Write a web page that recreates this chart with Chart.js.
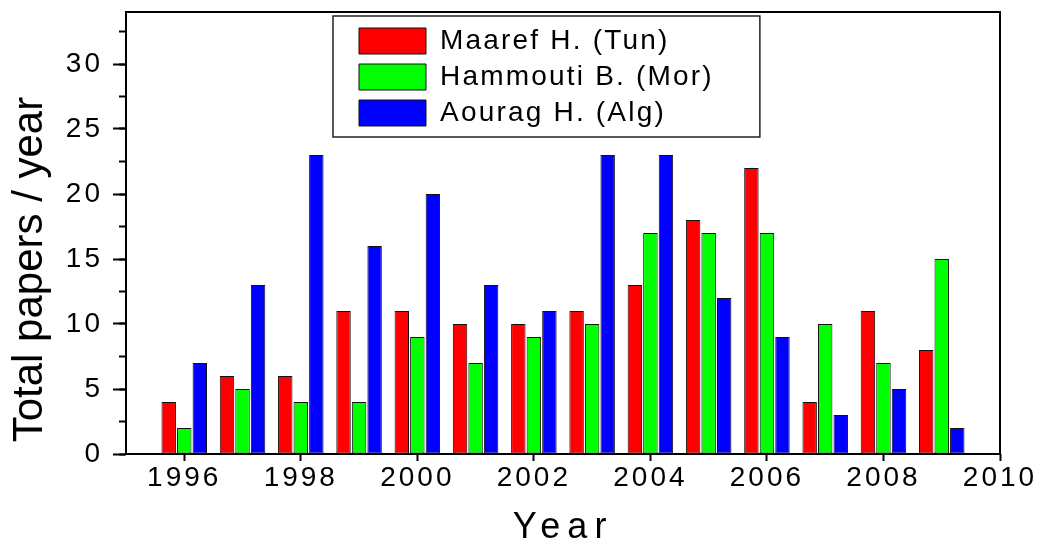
<!DOCTYPE html>
<html>
<head>
<meta charset="utf-8">
<title>Total papers per year</title>
<script src="https://cdn.jsdelivr.net/npm/chart.js@4.4.1/dist/chart.umd.min.js"></script>
<style>
  html, body { margin: 0; padding: 0; background: #fff; }
  canvas { display: block; }
</style>
</head>
<body>
<canvas id="papers-chart" width="1037" height="544"></canvas>
<script>
// datos
const years = [1996, 1997, 1998, 1999, 2000, 2001, 2002, 2003, 2004, 2005, 2006, 2007, 2008, 2009];
const maarefPapers   = [4, 6, 6, 11, 11, 10, 10, 11, 13, 18, 22, 4, 11, 8];
const hammoutiPapers = [2, 5, 4, 4, 9, 7, 9, 10, 17, 17, 17, 10, 7, 15];
const aouragPapers   = [7, 13, 23, 16, 20, 13, 11, 23, 23, 12, 9, 3, 5, 2];
const seriesNames = ['Maaref H. (Tun)', 'Hammouti B. (Mor)', 'Aourag H. (Alg)'];
const seriesColors = ['#ff0000', '#00ff00', '#0000ff'];
// marcas del eje x (años impares) y etiquetas (años pares)
const yearTickMarks = [1995, 1997, 1999, 2001, 2003, 2005, 2007, 2009];

const FONT = '"Liberation Sans", Arial, sans-serif';
Chart.defaults.font.family = FONT;
Chart.defaults.color = '#000';

// espaciado entre letras como en el original
function spaced(obj, method, spacing) {
  if (!obj || obj['_spaced_' + method]) return;
  const orig = obj[method];
  obj[method] = function () {
    const ctx = this.ctx;
    const prev = ctx.letterSpacing;
    ctx.letterSpacing = spacing;
    const res = orig.apply(this, arguments);
    ctx.letterSpacing = prev;
    return res;
  };
  obj['_spaced_' + method] = true;
}

const letterSpacing = {
  id: 'letterSpacing',
  beforeLayout(chart) {
    chart.ctx.letterSpacing = '3px';
    spaced(chart.legend, 'fit', '2.2px');
    spaced(chart.legend, 'draw', '2.2px');
    spaced(chart.scales.y, 'drawTitle', '0px');
    spaced(chart.scales.x, 'drawTitle', '7px');
  },
  beforeDraw(chart) {
    chart.ctx.letterSpacing = '3px';
  }
};

// leyenda dentro del area del grafico, con marco
const legendBox = {
  id: 'legendBox',
  afterLayout(chart) {
    const lg = chart.legend;
    const area = chart.chartArea;
    lg.left = area.left + 225;
    lg.top = area.top + 7;
    lg.right = lg.left + lg.width;
    lg.bottom = lg.top + lg.height;
  },
  afterDraw(chart) {
    const lg = chart.legend;
    const ctx = chart.ctx;
    ctx.save();
    ctx.lineWidth = 1.5;
    ctx.strokeStyle = '#222';
    ctx.strokeRect(lg.left - 18, lg.top - 3, lg.width + 54, 121);
    ctx.restore();
  }
};

// sin margenes extra por las etiquetas de los extremos
function noEdgePadding(s) {
  s.paddingLeft = 0;
  s.paddingRight = 0;
  s.paddingTop = 0;
  s.paddingBottom = 0;
}

const seriesData = [maarefPapers, hammoutiPapers, aouragPapers];

const tickFont = { family: FONT, size: 28 };

new Chart(document.getElementById('papers-chart').getContext('2d'), {
  type: 'bar',
  data: {
    labels: years,
    datasets: seriesNames.map((name, i) => ({
      label: name,
      data: seriesData[i],
      backgroundColor: seriesColors[i],
      borderColor: '#111',
      borderWidth: 1,
      borderSkipped: false,
      categoryPercentage: 0.8,
      barPercentage: 0.93,
      xAxisID: 'x',
      yAxisID: 'y'
    }))
  },
  plugins: [letterSpacing, legendBox],
  options: {
    responsive: false,
    animation: false,
    devicePixelRatio: 1,
    layout: { padding: { left: 0, right: 37, top: 12, bottom: 0 } },
    plugins: {
      tooltip: { enabled: false },
      legend: {
        position: 'chartArea',
        align: 'start',
        labels: {
          boxWidth: 67,
          boxHeight: 26,
          padding: 8,
          color: '#000',
          font: { family: FONT, size: 28, lineHeight: 1 }
        }
      }
    },
    scales: {
      x: {
        type: 'linear',
        position: 'bottom',
        weight: 1,
        min: 1995,
        max: 2010,
        offset: false,
        grid: { display: false, drawTicks: false, offset: false },
        border: { display: true, color: '#000', width: 2 },
        ticks: {
          stepSize: 2,
          includeBounds: false,
          autoSkip: false,
          maxRotation: 0,
          padding: 7,
          color: '#000',
          font: tickFont,
          callback: v => String(v)
        },
        title: {
          display: true,
          text: 'Year',
          color: '#000',
          font: { family: FONT, size: 36, lineHeight: 0.8 },
          padding: { top: 0, bottom: 2 }
        },
        afterFit: s => { s.height = 90; noEdgePadding(s); }
      },
      x2: {
        type: 'linear',
        position: 'bottom',
        weight: 0,
        min: 1995,
        max: 2010,
        offset: false,
        afterBuildTicks: s => { s.ticks = yearTickMarks.map(v => ({ value: v })); },
        grid: { drawOnChartArea: false, drawTicks: true, tickLength: 7, tickWidth: 2, tickColor: '#000' },
        border: { display: false },
        ticks: { display: false },
        afterFit: s => { s.height = 0; noEdgePadding(s); }
      },
      xTop: {
        type: 'linear',
        position: 'top',
        min: 1995,
        max: 2010,
        grid: { display: false },
        border: { display: true, color: '#000', width: 2 },
        ticks: { display: false },
        afterFit: s => { s.height = 0; noEdgePadding(s); }
      },
      y: {
        type: 'linear',
        position: 'left',
        weight: 1,
        min: 0,
        max: 34,
        grid: { drawOnChartArea: false, drawTicks: true, tickLength: 13, tickWidth: 2, tickColor: '#000' },
        border: { display: true, color: '#000', width: 2 },
        ticks: {
          stepSize: 5,
          includeBounds: false,
          padding: 10,
          color: '#000',
          font: tickFont,
          callback: v => String(v)
        },
        title: {
          display: true,
          text: ' Total papers / year',
          align: 'start',
          color: '#000',
          font: { family: FONT, size: 42 },
          padding: { top: 5, bottom: 0 }
        },
        afterFit: s => { s.width = 126; noEdgePadding(s); }
      },
      y2: {
        type: 'linear',
        position: 'left',
        weight: 0,
        min: 0,
        max: 34,
        grid: { drawOnChartArea: false, drawTicks: true, tickLength: 7, tickWidth: 2, tickColor: '#000' },
        border: { display: false },
        ticks: { display: false, stepSize: 2.5, includeBounds: false },
        afterFit: s => { s.width = 0; noEdgePadding(s); }
      },
      yRight: {
        type: 'linear',
        position: 'right',
        min: 0,
        max: 34,
        grid: { display: false },
        border: { display: true, color: '#000', width: 2 },
        ticks: { display: false },
        afterFit: s => { s.width = 0; noEdgePadding(s); }
      }
    }
  }
});
</script>
</body>
</html>
